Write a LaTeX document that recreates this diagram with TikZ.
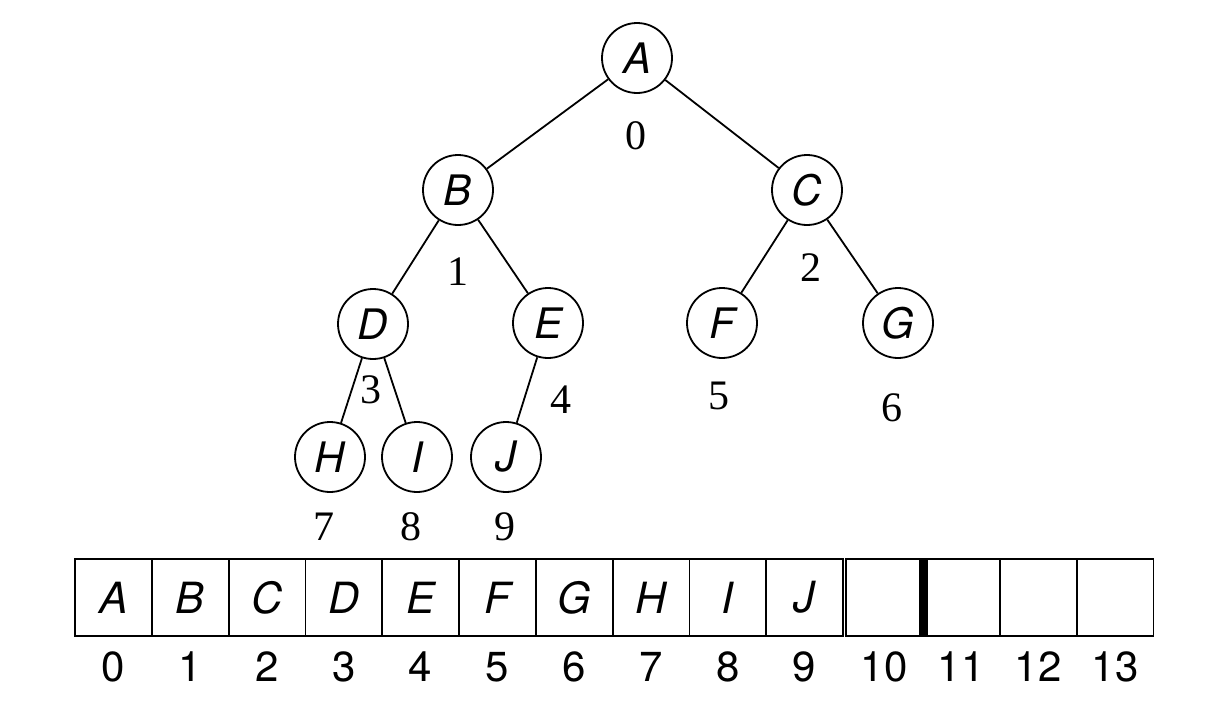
\documentclass[tikz,border=0pt]{standalone}
\usepackage{fontspec}
\setmainfont{Liberation Serif}
\newfontfamily\heros{TeX Gyre Heros}
\begin{document}
\begin{tikzpicture}[x=1pt,y=-1pt,
  tn/.style={circle, draw, line width=1.8pt, minimum size=70pt, inner sep=0pt,
    font=\heros\itshape\fontsize{42}{50}\selectfont},
  idx/.style={inner sep=0pt, font=\fontsize{42}{50}\selectfont},
  cell/.style={draw, line width=1.8pt, minimum height=77pt, inner sep=0pt,
    font=\heros\itshape\fontsize{43}{51}\selectfont},
  adx/.style={inner sep=0pt, font=\heros\fontsize{42}{50}\selectfont},
  edge/.style={line width=1.8pt},
  bar/.style={line width=9pt}]
\useasboundingbox (0,0) rectangle (1220,712);
% tree nodes
\node[tn] (A) at (637,58) {A};
\node[tn] (B) at (458,190) {B};
\node[tn] (C) at (807,190) {C};
\node[tn] (D) at (373,324) {D};
\node[tn] (E) at (548,323) {E};
\node[tn] (F) at (722,323) {F};
\node[tn] (G) at (898,323) {G};
\node[tn] (H) at (330,457) {H};
\node[tn] (I) at (417,457) {I};
\node[tn] (J) at (506,457) {J};
\draw[edge] (A) -- (B);
\draw[edge] (A) -- (C);
\draw[edge] (B) -- (D);
\draw[edge] (B) -- (E);
\draw[edge] (C) -- (F);
\draw[edge] (C) -- (G);
\draw[edge] (D) -- (H);
\draw[edge] (D) -- (I);
\draw[edge] (E) -- (J);
% tree index labels
\node[idx] (t0) at (636,136) {0};
\node[idx] (t1) at (458,272) {1};
\node[idx] (t2) at (811,268) {2};
\node[idx] (t3) at (371,390) {3};
\node[idx] (t4) at (561,400) {4};
\node[idx] (t5) at (719,396) {5};
\node[idx] (t6) at (892,408) {6};
\node[idx] (t7) at (324,527) {7};
\node[idx] (t8) at (411,527) {8};
\node[idx] (t9) at (505,527) {9};
% array cells 0..9
\foreach \i/\l in {0/A,1/B,2/C,3/D,4/E,5/F,6/G,7/H,8/I,9/J}{
  \node[cell, minimum width=76.8pt] (c\i) at ({75+76.8*\i+38.4},597.5) {\l};
  \node[adx] (n\i) at ({75+76.8*\i+38.4},667) {\i};
}
% empty cells 10..13
\node[cell, minimum width=76.5pt] (c10) at (884.25,597.5) {};
\node[cell, minimum width=77.5pt] (c11) at (961.25,597.5) {};
\node[cell, minimum width=77pt] (c12) at (1038.5,597.5) {};
\node[cell, minimum width=76pt] (c13) at (1115.5,597.5) {};
\draw[bar] (c10.north east) -- (c10.south east);
\node[adx] (n10) at (884,667) {10};
\node[adx] (n11) at (961,667) {11};
\node[adx] (n12) at (1038,667) {12};
\node[adx] (n13) at (1115,667) {13};
\end{tikzpicture}
\end{document}
